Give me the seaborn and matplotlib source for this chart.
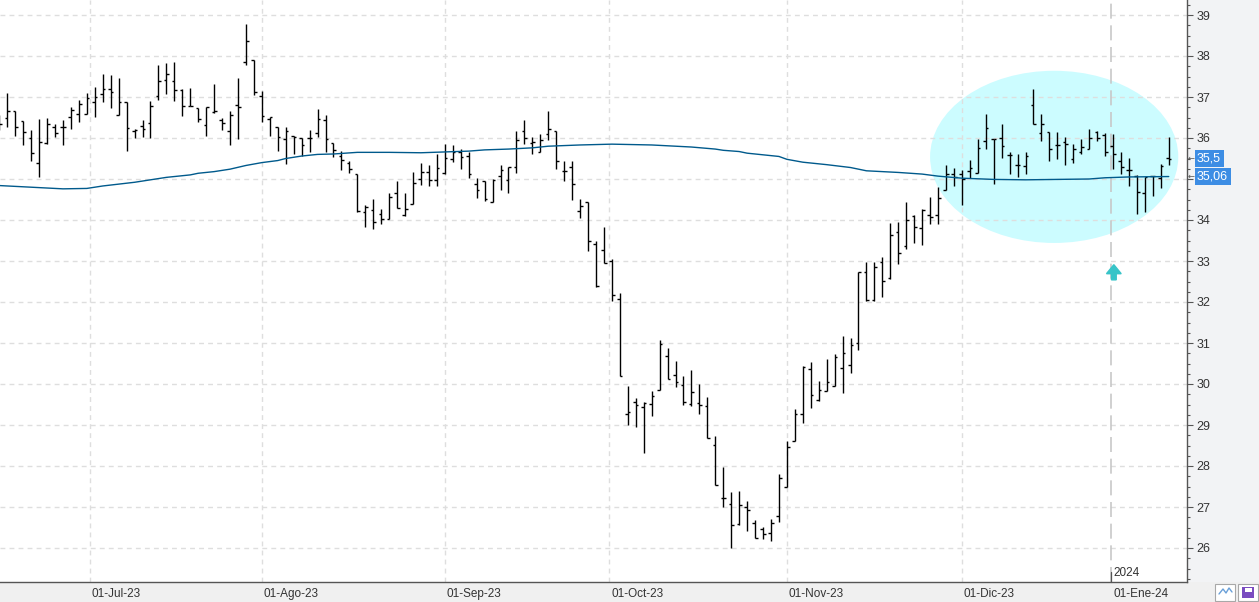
import numpy as np
import pandas as pd
import matplotlib
matplotlib.use("Agg")
import matplotlib.pyplot as plt
import matplotlib.transforms as mtransforms
from matplotlib.patches import Ellipse, FancyArrow, Rectangle
from matplotlib.ticker import MultipleLocator
import seaborn as sns

# ---------------- data ----------------
holidays = ["2023-12-25", "2023-12-26", "2024-01-01"]
first_day, last_day = "2023-06-15", "2024-01-11"

open_ = [36.40, 36.50, 36.67, 36.41, 35.99, 35.40, 35.88, 36.28, 36.28, 36.52, 36.59, 36.59,
         36.89, 37.07, 37.19, 36.57, 36.87, 36.16, 36.30, 36.36, 37.02, 37.41, 37.38, 37.18,
         36.78, 36.73, 36.31, 36.63, 36.45, 36.16, 36.81, 37.86, 37.91,
         37.02, 36.46, 36.28, 35.98, 36.04, 36.01, 35.99, 36.11, 36.45, 35.87, 35.57, 35.39,
         35.11, 34.20, 34.24, 34.15, 34.03, 34.66, 34.13, 34.39, 35.00, 35.18, 34.98,
         35.15, 35.49, 35.67, 35.57, 34.88, 34.96, 34.44, 35.08, 34.98, 35.30, 36.18, 35.87,
         35.65, 36.10, 36.17, 35.20, 35.30, 34.23, 34.43, 33.41, 33.27,
         33.01, 32.07, 29.27, 29.55, 29.45, 29.51, 29.85, 30.68, 30.23, 29.98, 29.51, 29.54,
         29.46, 28.52, 27.22, 27.07, 26.59, 27.01, 26.61, 26.46, 26.37, 26.79,
         27.50, 28.60, 29.28, 30.37, 29.61, 29.84, 29.96, 30.39, 30.47, 31.01, 32.72, 32.06,
         32.98, 32.58, 33.70, 33.37, 34.09, 33.80, 34.12, 34.12, 34.74, 35.12,
         35.13, 35.19, 35.15, 35.92, 35.97, 36.01, 35.59, 35.33, 35.31, 36.80, 36.13, 36.15,
         35.84, 35.90, 35.50, 35.67, 35.74, 36.15, 36.07,
         35.81, 35.44, 35.23, 35.08, 34.67, 35.07, 35.03, 35.52]
high = [36.55, 37.10, 36.67, 36.41, 36.19, 36.46, 36.48, 36.35, 36.43, 36.75, 36.92, 37.09,
        37.24, 37.55, 37.53, 37.46, 36.87, 36.21, 36.45, 36.90, 37.77, 37.84, 37.85, 37.20,
        37.23, 36.73, 36.75, 37.31, 36.50, 36.67, 37.47, 38.79, 37.91,
        37.14, 36.51, 36.28, 36.28, 36.06, 36.01, 36.19, 36.70, 36.56, 35.89, 35.69, 35.44,
        35.11, 34.36, 34.52, 34.26, 34.67, 34.96, 34.66, 35.16, 35.40, 35.35, 35.60,
        35.86, 35.84, 35.73, 35.65, 35.03, 34.96, 35.00, 35.35, 35.30, 36.16, 36.43, 36.02,
        36.09, 36.67, 36.17, 35.44, 35.44, 34.51, 34.43, 33.50, 33.84,
        33.05, 32.21, 29.96, 29.67, 29.57, 29.84, 31.08, 30.88, 30.57, 30.20, 30.35, 30.00,
        29.69, 28.74, 27.98, 27.36, 27.40, 27.15, 26.69, 26.52, 26.71, 27.80,
        28.62, 29.39, 30.45, 30.54, 30.07, 30.61, 30.73, 31.18, 31.12, 32.74, 32.97, 32.97,
        33.09, 33.92, 33.94, 34.43, 34.13, 34.27, 34.57, 34.80, 35.33, 35.26,
        35.21, 35.46, 35.97, 36.58, 35.98, 36.33, 35.67, 35.60, 35.66, 37.19, 36.58, 36.15,
        36.15, 36.02, 35.85, 35.98, 36.23, 36.16, 36.13,
        36.09, 35.67, 35.52, 35.09, 35.05, 35.07, 35.37, 36.02]
low = [36.20, 36.27, 36.05, 35.83, 35.44, 35.05, 35.86, 36.02, 35.83, 36.23, 36.39, 36.59,
       36.51, 36.88, 36.74, 36.57, 35.68, 35.99, 36.02, 36.00, 36.93, 37.07, 36.90, 36.53,
       36.78, 36.39, 36.05, 36.62, 36.20, 35.83, 35.98, 37.79, 37.06,
       36.39, 36.05, 35.68, 35.37, 35.60, 35.55, 35.67, 36.02, 35.66, 35.54, 35.21, 35.15,
       34.19, 33.83, 33.77, 33.91, 34.03, 34.29, 34.10, 34.39, 34.86, 34.82, 34.83,
       35.12, 35.41, 35.24, 35.02, 34.53, 34.47, 34.44, 34.74, 34.66, 35.15, 35.86, 35.61,
       35.65, 35.96, 35.24, 34.95, 34.49, 34.06, 33.25, 32.37, 32.95,
       32.03, 30.20, 29.01, 28.94, 28.31, 29.23, 29.85, 30.12, 29.92, 29.49, 29.46, 29.27,
       28.68, 27.54, 27.01, 26.00, 26.56, 26.42, 26.24, 26.22, 26.16, 26.63,
       27.48, 28.60, 29.04, 29.41, 29.59, 29.84, 29.96, 29.77, 30.27, 30.83, 32.03, 32.02,
       32.11, 32.56, 32.93, 33.29, 33.43, 33.39, 33.90, 33.90, 34.74, 34.84,
       34.36, 35.03, 35.15, 35.72, 34.88, 35.51, 35.13, 35.05, 35.13, 36.33, 35.93, 35.44,
       35.50, 35.33, 35.39, 35.62, 35.74, 35.93, 35.56,
       35.24, 35.11, 34.83, 34.14, 34.20, 34.59, 34.79, 35.33]
close = [36.35, 36.65, 36.28, 36.15, 35.64, 35.91, 36.33, 36.11, 36.28, 36.69, 36.84, 36.98,
         36.99, 37.20, 37.12, 36.87, 36.24, 36.20, 36.21, 36.79, 37.40, 37.55, 37.18, 36.79,
         36.78, 36.47, 36.75, 36.67, 36.37, 36.56, 36.76, 38.37, 37.12,
         36.54, 36.51, 36.02, 36.18, 36.02, 35.84, 35.99, 36.47, 35.97, 35.70, 35.47, 35.24,
         34.21, 34.32, 33.94, 34.03, 34.56, 34.29, 34.27, 34.91, 35.18, 34.98, 35.27,
         35.51, 35.67, 35.54, 35.11, 34.72, 34.51, 34.98, 35.21, 35.30, 35.96, 35.99, 35.90,
         35.96, 36.22, 35.44, 35.20, 34.88, 34.35, 33.49, 32.39, 32.95,
         32.17, 30.20, 29.32, 29.50, 29.53, 29.71, 30.98, 30.12, 30.06, 29.55, 29.80, 29.49,
         28.68, 27.54, 27.22, 26.56, 27.05, 26.93, 26.24, 26.34, 26.61, 27.71,
         28.46, 29.27, 30.41, 29.73, 29.85, 30.04, 30.67, 30.76, 30.96, 32.74, 32.06, 32.86,
         32.51, 33.63, 33.20, 34.01, 33.82, 34.24, 34.07, 34.54, 35.12, 35.06,
         35.01, 35.28, 35.76, 36.25, 35.98, 35.80, 35.59, 35.33, 35.57, 36.35, 36.33, 35.72,
         35.84, 35.85, 35.73, 35.78, 36.00, 36.00, 35.67,
         35.60, 35.29, 35.23, 34.68, 35.05, 35.07, 35.31, 35.50]

# long moving average, read at sampled bar positions (bar number, value)
ma_pos = [0, 4, 8, 11, 13, 17, 19, 21, 24, 25, 27, 29, 31, 33, 35, 36, 38, 40, 42, 45, 49,
          53, 56, 59, 61, 64, 67, 69, 73, 77, 82, 85, 87, 90, 91, 93, 94, 96, 98, 99, 101,
          104, 107, 109, 113, 116, 118, 121, 125, 129, 133, 137, 139, 142, 147]
ma_val = [34.84, 34.80, 34.76, 34.77, 34.83, 34.92, 34.98, 35.04, 35.10, 35.14, 35.18, 35.24,
          35.33, 35.40, 35.45, 35.50, 35.56, 35.60, 35.61, 35.65, 35.65, 35.64, 35.66, 35.68,
          35.71, 35.73, 35.76, 35.80, 35.83, 35.85, 35.83, 35.80, 35.78, 35.73, 35.70, 35.67,
          35.63, 35.59, 35.55, 35.48, 35.41, 35.35, 35.28, 35.20, 35.16, 35.12, 35.07, 35.02,
          34.99, 34.98, 34.99, 35.00, 35.03, 35.05, 35.06]

month_starts = ["2023-07-01", "2023-08-01", "2023-09-01", "2023-10-01",
                "2023-11-01", "2023-12-01", "2024-01-01"]
month_labels = ["01-Jul-23", "01-Ago-23", "01-Sep-23", "01-Oct-23",
                "01-Nov-23", "01-Dic-23", "01-Ene-24"]
year_label = "2024"
y_ticks = list(range(26, 40))

# ---------------- figure ----------------
sns.set_theme(style="white")
plt.rcParams['font.family'] = ['Liberation Sans', 'DejaVu Sans']

W, H = 1259, 602
fig = plt.figure(figsize=(W / 100, H / 100), dpi=100, facecolor='#f0f0f0')
fig.add_artist(Rectangle((1187 / W, 20 / H), 72 / W, 582 / H, transform=fig.transFigure,
                         facecolor='#f2f3f5', edgecolor='none', zorder=-1))
ax = fig.add_axes([0, 20 / H, 1187 / W, 582 / H])
ax.set_facecolor('white')

dates = pd.bdate_range(first_day, last_day, freq="C", holidays=holidays)
n = min(len(dates), len(open_), len(high), len(low), len(close))
dates = dates[:n]
pos = np.arange(n)
o = np.array(open_[:n]); h = np.array(high[:n]); l = np.array(low[:n]); c = np.array(close[:n])

day_ord = np.array([d.toordinal() for d in dates])
month_pos = [float(np.interp(pd.Timestamp(m).toordinal(), day_ord, pos)) for m in month_starts]

# scale: 7.955 px per bar, bar 0 at x=-0.655 px
ppb = 7.955
x0 = -0.655
ax.set_xlim((0 - x0) / ppb, (1187 - x0) / ppb)
ax.set_ylim(39 - 567 / 41, 39 + 15 / 41)

# gridlines
grid_kw = dict(color='#dedede', lw=1.0, ls=(0, (3.5, 3)), zorder=1)
for v in y_ticks:
    ax.axhline(v, **grid_kw)
for mp in month_pos[:-1]:
    ax.axvline(mp, **grid_kw)
ax.axvline(month_pos[-1], color='#c8c8c8', lw=1.2, ls=(0, (9, 4)), zorder=1)

# highlight ellipse
ax.add_patch(Ellipse((132.6, 35.54), 31.2, 4.20, facecolor='#ccfcff',
                     edgecolor='none', zorder=0.5))

# OHLC bars
bar_kw = dict(color='black', lw=1.0, zorder=3)
ax.vlines(pos, l, h, **bar_kw)
ax.hlines(o, pos - 0.33, pos, **bar_kw)
ax.hlines(c, pos, pos + 0.33, **bar_kw)

# moving average
sns.lineplot(x=ma_pos, y=ma_val, color='#005a8c', lw=1.0, ax=ax, zorder=4,
             estimator=None, sort=False)

# arrow
ax.add_patch(FancyArrow(140.1, 32.54, 0, 0.37, width=0.6, head_width=1.85,
                        head_length=0.22, length_includes_head=True,
                        color='#38c4c8', zorder=5))

# axes styling
for s in ['left', 'top']:
    ax.spines[s].set_visible(False)
for s in ['right', 'bottom']:
    ax.spines[s].set_color('#555555')
    ax.spines[s].set_linewidth(1.0)

# last-value labels on the right scale (the box hides the tick label beneath it)
last_close = c[-1]
last_ma = ma_val[-1]


def fmt(v):
    s = f"{v:.2f}".rstrip('0').rstrip('.')
    return s.replace('.', ',')


hidden = {round(last_ma)} if abs(last_ma - round(last_ma)) < 0.25 else set()

ax.yaxis.tick_right()
ax.set_yticks(y_ticks)
ax.set_yticklabels(['' if v in hidden else str(v) for v in y_ticks])
ax.yaxis.set_minor_locator(MultipleLocator(0.25))
ax.tick_params(axis='y', which='major', direction='out', length=4.5, width=0.8,
               color='#555555', labelsize=9, labelcolor='#333333', pad=2.5)
ax.tick_params(axis='y', which='minor', direction='out', length=2.4, width=0.8,
               color='#555555')

ax.set_xticks(month_pos)
ax.set_xticklabels(month_labels, ha='left')
ax.tick_params(axis='x', which='major', direction='out', length=5.8, width=0.8,
               color='#555555', labelsize=8.5, labelcolor='#333333', pad=-1.5)
offset = mtransforms.ScaledTranslation(2 / 100, 0, fig.dpi_scale_trans)
for lab in ax.get_xticklabels():
    lab.set_transform(lab.get_transform() + offset)
ax.set_xlabel(''); ax.set_ylabel('')

# year marker
blend = mtransforms.blended_transform_factory(ax.transData, ax.transAxes)
ax.plot([month_pos[-1], month_pos[-1]], [0, 10 / 582], transform=blend,
        color='#555555', lw=0.9, zorder=6, clip_on=False)
ax.annotate(year_label, xy=(month_pos[-1], 0), xycoords=blend, xytext=(1.5, 2.5),
            textcoords='offset points', ha='left', va='bottom', fontsize=8.5,
            color='#333333', zorder=6)

yblend = mtransforms.blended_transform_factory(ax.transAxes, ax.transData)
for v in [last_close, last_ma]:
    ax.annotate(fmt(v), xy=(1, v), xycoords=yblend, xytext=(7.2, 0),
                textcoords='offset points', ha='left', va='center', fontsize=9,
                color='white', annotation_clip=False, zorder=10,
                bbox=dict(boxstyle='square,pad=0.2', fc='#3d8de4', ec='none'))
    ax.annotate('←', xy=(1, v), xycoords=yblend, xytext=(0.8, 0),
                textcoords='offset points', ha='left', va='center', fontsize=6,
                color='#555555', family=['DejaVu Sans'], annotation_clip=False, zorder=10)

# small buttons at bottom right
for bx in [1215, 1238]:
    fig.add_artist(Rectangle((bx / W, 1 / H), 20 / W, 17 / H, transform=fig.transFigure,
                             facecolor='white', edgecolor='#a8a8a8', lw=0.8, zorder=5))
xs = np.array([1219, 1223, 1226, 1229, 1232]) / W
fig.add_artist(plt.Line2D(xs, 1 - np.array([594, 589, 593, 588, 592]) / H,
                          transform=fig.transFigure, color='#6aa0d8', lw=1.0, zorder=6))
fig.add_artist(Rectangle((1242 / W, 4 / H), 12 / W, 11 / H, transform=fig.transFigure,
                         facecolor='#7a4cc0', edgecolor='none', zorder=6))
fig.add_artist(Rectangle((1244.5 / W, 10 / H), 7 / W, 4 / H, transform=fig.transFigure,
                         facecolor='white', edgecolor='none', zorder=7))

fig.savefig("out.png", dpi=100, facecolor=fig.get_facecolor())
